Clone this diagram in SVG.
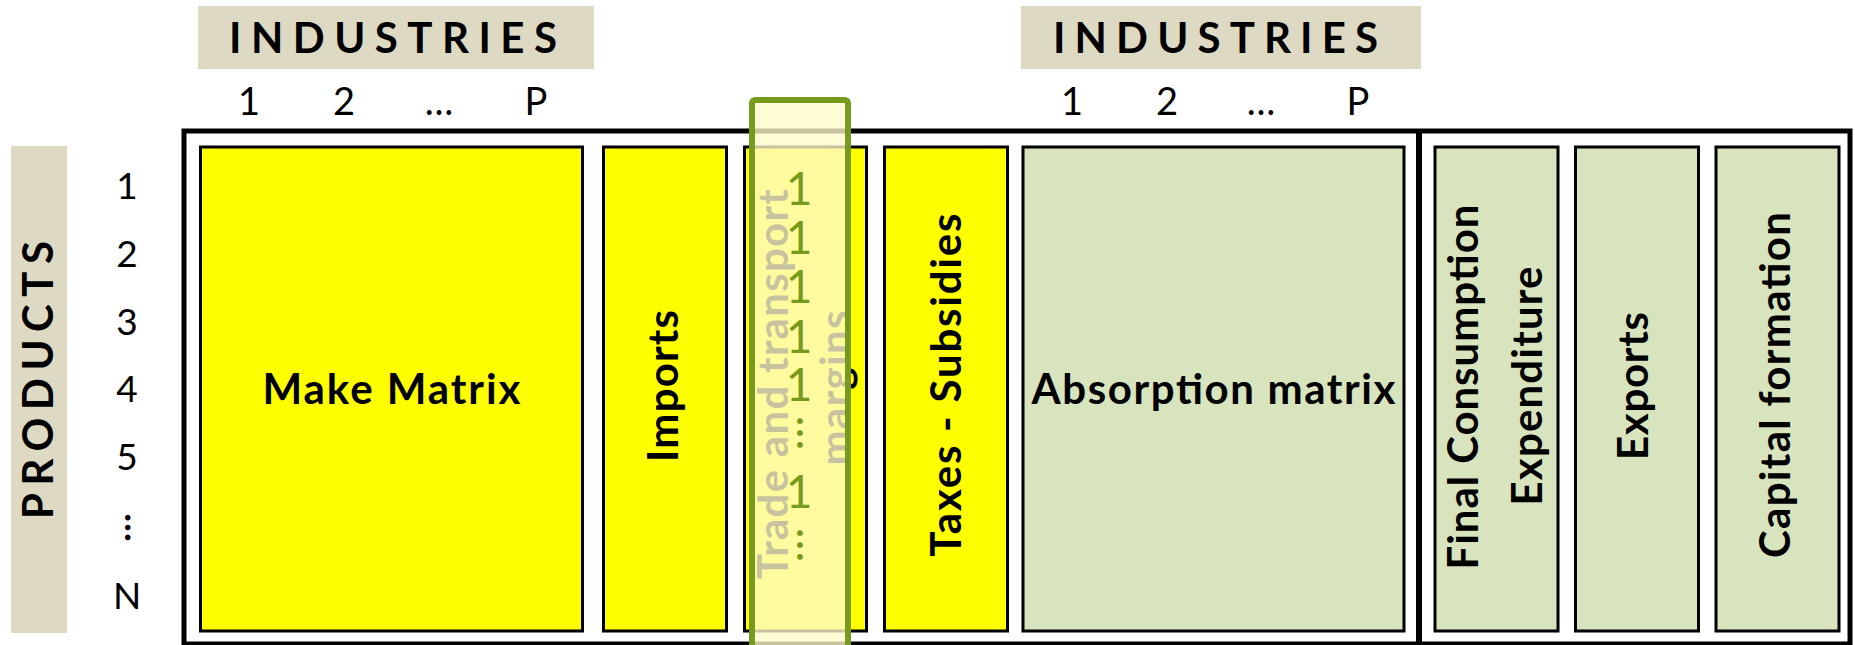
<svg xmlns="http://www.w3.org/2000/svg" width="1855" height="645" viewBox="0 0 1855 645">
<style>
.hdr{fill:#DDD9C3}
.hl{font-family:Lato,"Liberation Sans",sans-serif;font-weight:700;font-size:42px;fill:#000;text-anchor:middle}
.num{font-family:Lato,"Liberation Sans",sans-serif;font-size:38px;fill:#000;text-anchor:middle}
.rnum{font-family:Lato,"Liberation Sans",sans-serif;font-size:37px;fill:#000;text-anchor:middle}
.box{stroke:#000;stroke-width:3}
.y{fill:#FFFF00}
.g{fill:#D7E4BD}
.lbl{font-family:Lato,"Liberation Sans",sans-serif;font-weight:700;font-size:42px;fill:#000;text-anchor:middle}
.frame{fill:none;stroke:#000;stroke-width:5}
.ov{fill:#FFFACB;fill-opacity:0.78;stroke:#789A1C;stroke-width:6}
.ovt{font-family:Lato,"Liberation Sans",sans-serif;font-size:46px;fill:#789A1C;text-anchor:middle}
</style>

<g id="industries-left">
<rect class="hdr" x="198" y="6" width="396" height="63"/>
<text class="hl" x="393" y="53" textLength="328" lengthAdjust="spacing">INDUSTRIES</text>
<text class="num" x="249" y="115">1</text>
<text class="num" x="344" y="115">2</text>
<text class="num" x="439" y="115">…</text>
<text class="num" x="536" y="115">P</text>
</g>

<g id="industries-right">
<rect class="hdr" x="1021" y="6" width="400" height="63"/>
<text class="hl" x="1215.5" y="53" textLength="325" lengthAdjust="spacing">INDUSTRIES</text>
<text class="num" x="1072" y="115">1</text>
<text class="num" x="1167" y="115">2</text>
<text class="num" x="1261" y="115">…</text>
<text class="num" x="1358" y="115">P</text>
</g>

<g id="products">
<rect class="hdr" x="11" y="146" width="56" height="487"/>
<text class="hl" transform="translate(53,380) rotate(-90)" textLength="278" lengthAdjust="spacing">PRODUCTS</text>
<text class="rnum" x="127" y="199">1</text>
<text class="rnum" x="127" y="267">2</text>
<text class="rnum" x="127" y="335">3</text>
<text class="rnum" x="127" y="402">4</text>
<text class="rnum" x="127" y="470">5</text>
<text class="rnum" style="font-weight:700" transform="translate(125,527.5) rotate(90)">…</text>
<text class="rnum" x="127" y="609">N</text>
</g>

<g id="frame">
<rect class="frame" x="184" y="131" width="1666" height="513"/>
<line x1="1419" y1="131" x2="1419" y2="645" stroke="#000" stroke-width="6"/>
</g>

<g id="make-matrix">
<rect class="box y" x="200.5" y="147" width="382" height="484"/>
<text class="lbl" x="391.5" y="404" textLength="258">Make Matrix</text>
</g>

<g id="imports">
<rect class="box y" x="603.5" y="147" width="123" height="484"/>
<text class="lbl" transform="translate(678,386) rotate(-90)" textLength="152">Imports</text>
</g>

<g id="trade-margins">
<rect class="box y" x="744.5" y="147" width="122" height="484"/>
<text class="lbl" transform="translate(788,384) rotate(-90)" textLength="390">Trade and transport</text>
<text class="lbl" transform="translate(850,388) rotate(-90)" textLength="155">margins</text>
</g>

<g id="taxes-subsidies">
<rect class="box y" x="884.5" y="147" width="123" height="484"/>
<text class="lbl" transform="translate(961,385) rotate(-90)" textLength="343">Taxes - Subsidies</text>
</g>

<g id="absorption-matrix">
<rect class="box g" x="1023" y="147" width="381" height="484"/>
<text class="lbl" x="1213.5" y="404" textLength="364">Absorption matrix</text>
</g>

<g id="final-consumption">
<rect class="box g" x="1435" y="147" width="123" height="484"/>
<text class="lbl" transform="translate(1478,387) rotate(-90)" textLength="365">Final Consumption</text>
<text class="lbl" transform="translate(1542,386) rotate(-90)" textLength="239">Expenditure</text>
</g>

<g id="exports">
<rect class="box g" x="1575.5" y="147" width="123" height="484"/>
<text class="lbl" transform="translate(1648,386) rotate(-90)" textLength="148">Exports</text>
</g>

<g id="capital-formation">
<rect class="box g" x="1716" y="147" width="123" height="484"/>
<text class="lbl" transform="translate(1790,385) rotate(-90)" textLength="346">Capital formation</text>
</g>

<g id="highlight">
<rect class="ov" x="752" y="100" width="96" height="570" rx="3"/>
<text class="ovt" x="799" y="205">1</text>
<text class="ovt" x="799" y="254">1</text>
<text class="ovt" x="799" y="303">1</text>
<text class="ovt" x="799" y="353">1</text>
<text class="ovt" x="799" y="401">1</text>
<text class="ovt" transform="translate(797,433) rotate(90)">…</text>
<text class="ovt" x="799" y="508">1</text>
<text class="ovt" transform="translate(797,545) rotate(90)">…</text>
</g>
</svg>
